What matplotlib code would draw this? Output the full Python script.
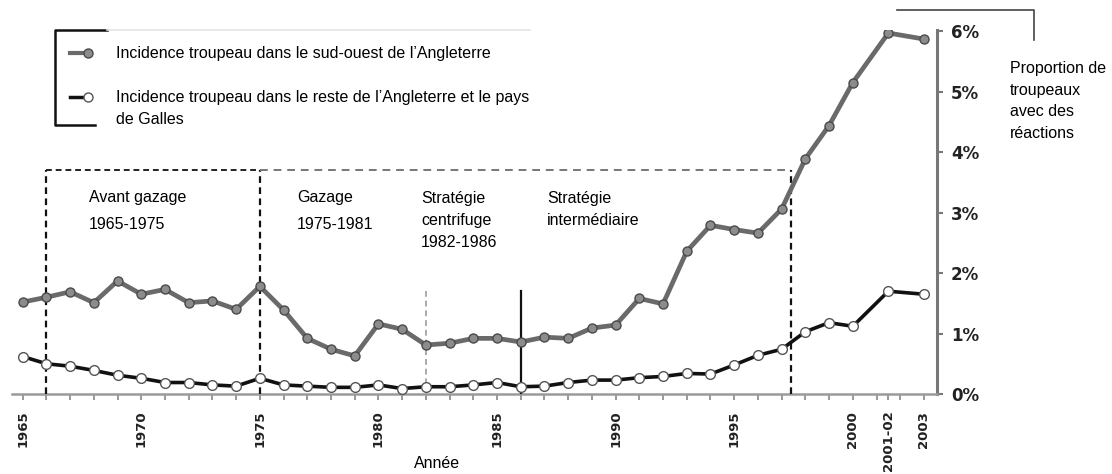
import matplotlib.pyplot as plt
import numpy as np
from matplotlib.lines import Line2D

# --- data ---
years = list(range(1965, 2001)) + [2001.5, 2003]
sw_england = [1.52, 1.60, 1.69, 1.51, 1.87, 1.65, 1.73, 1.51, 1.54, 1.40,
              1.78, 1.39, 0.92, 0.74, 0.63, 1.16, 1.07, 0.81, 0.84, 0.92,
              0.92, 0.86, 0.94, 0.92, 1.09, 1.14, 1.58, 1.49, 2.36, 2.79,
              2.72, 2.66, 3.06, 3.89, 4.44, 5.15, 5.97, 5.87]
rest_england_wales = [0.62, 0.50, 0.46, 0.39, 0.31, 0.26, 0.19, 0.19, 0.15, 0.13,
                      0.26, 0.15, 0.13, 0.11, 0.11, 0.15, 0.09, 0.12, 0.12, 0.15,
                      0.19, 0.12, 0.13, 0.19, 0.23, 0.23, 0.27, 0.29, 0.34, 0.33,
                      0.48, 0.64, 0.74, 1.03, 1.18, 1.12, 1.70, 1.65]

tick_pos = [1965, 1970, 1975, 1980, 1985, 1990, 1995, 2000, 2001.5, 2003]
tick_labels = ['1965', '1970', '1975', '1980', '1985', '1990', '1995', '2000',
               '2001-02', '2003']
pct_ticks = [0, 1, 2, 3, 4, 5, 6]

# periods (dashed frame) and strategy markers
period_bounds = [1966, 1975, 1997.4]
period_top = 3.7
strategy_lines = [1982, 1986]
strategy_top = 1.7

label_sw = 'Incidence troupeau dans le sud-ouest de l’Angleterre'
label_rest = 'Incidence troupeau dans le reste de l’Angleterre et le pays\nde Galles'

W, H = 1112, 474


def px(x, y):
    # pixel (from top-left) -> figure fraction
    return x / W, 1 - y / H


def main():
    plt.rcParams['font.family'] = ['Liberation Sans', 'DejaVu Sans']
    fig = plt.figure(figsize=(W / 100, H / 100), dpi=100)
    ax = fig.add_axes([12 / W, 1 - 394 / H, (937 - 12) / W, (394 - 30) / H])

    GRAY_LINE = '#6a6a6a'

    # --- series ---
    ax.plot(years, sw_england, color=GRAY_LINE, lw=3.4, marker='o', ms=6.5,
            mfc='#8c8c8c', mec='#4a4a4a', mew=1.0, zorder=4)
    ax.plot(years, rest_england_wales, color='#111111', lw=2.6, marker='o', ms=7,
            mfc='white', mec='#555555', mew=1.0, zorder=4)

    # --- period frame ---
    dash = (0, (3, 2))
    x0, x1, x2 = period_bounds
    for xb in period_bounds:
        ax.plot([xb, xb], [0, period_top], color='#111111', lw=1.6, ls=dash, zorder=3)
    ax.plot([x0, x1], [period_top, period_top], color='#222222', lw=1.4, ls=dash, zorder=3)
    ax.plot([x1, x2], [period_top, period_top], color='#777777', lw=1.4, ls=(0, (4, 3)), zorder=3)
    ax.plot([strategy_lines[0]] * 2, [0, strategy_top], color='#aaaaaa', lw=1.4, ls=dash, zorder=3)
    ax.plot([strategy_lines[1]] * 2, [0, strategy_top], color='#111111', lw=1.6, zorder=3)

    # --- axes ---
    ax.set_xlim(1964.55, 2003.55)
    ax.set_ylim(0, 6.02)
    for s in ['top', 'left']:
        ax.spines[s].set_visible(False)
    ax.spines['right'].set_color('#777777')
    ax.spines['right'].set_linewidth(2.2)
    ax.spines['bottom'].set_color('#9a9a9a')
    ax.spines['bottom'].set_linewidth(1.8)

    ax.yaxis.tick_right()
    ax.set_yticks(pct_ticks)
    ax.set_yticklabels([f'{v}%' for v in pct_ticks], fontsize=12, fontweight='bold',
                       family='DejaVu Sans', color='#222222')
    ax.tick_params(axis='y', length=4, width=1.5, color='#777777', pad=6)

    ax.set_xticks(tick_pos)
    ax.set_xticklabels(tick_labels, rotation=90, fontsize=9.5, fontweight='bold',
                       family='DejaVu Sans', color='#222222')
    ax.set_xticks(np.arange(1965, 2004), minor=True)
    ax.tick_params(axis='x', which='both', length=4, width=1.2, color='#888888', pad=8)

    # --- period labels ---
    fs = 11.5
    fig.text(*px(89, 190), 'Avant gazage\n1965-1975', fontsize=fs, va='top', linespacing=2.0)
    fig.text(*px(297, 190), 'Gazage\n1975-1981', fontsize=fs, va='top', linespacing=2.0)
    fig.text(*px(421, 191), 'Stratégie\ncentrifuge\n1982-1986', fontsize=fs, va='top', linespacing=1.6)
    fig.text(*px(547, 191), 'Stratégie\nintermédiaire', fontsize=fs, va='top', linespacing=1.6)

    # --- legend (drawn by hand, bracket style) ---
    fig.add_artist(Line2D([107 / W, 55 / W, 55 / W, 95 / W],
                          [1 - 30 / H, 1 - 30 / H, 1 - 125 / H, 1 - 125 / H],
                          color='#111111', lw=1.8))
    fig.add_artist(Line2D([107 / W, 530 / W], [1 - 30 / H] * 2, color='#e4e4e4', lw=1.2))
    fig.add_artist(Line2D([70 / W, 88 / W], [1 - 53 / H] * 2, color=GRAY_LINE, lw=3))
    fig.add_artist(Line2D([88 / W], [1 - 53 / H], marker='o', ms=6.5, mfc='#8c8c8c',
                          mec='#4a4a4a', lw=0))
    fig.add_artist(Line2D([70 / W, 88 / W], [1 - 97 / H] * 2, color='#111111', lw=2.5))
    fig.add_artist(Line2D([88 / W], [1 - 97 / H], marker='o', ms=6.5, mfc='white',
                          mec='#555555', lw=0))
    fig.text(*px(116, 46), label_sw, fontsize=fs, va='top')
    fig.text(*px(116, 90), label_rest, fontsize=fs, va='top', linespacing=1.55)

    # --- axis titles ---
    fig.add_artist(Line2D([897 / W, 1034 / W, 1034 / W], [1 - 10 / H, 1 - 10 / H, 1 - 40 / H],
                          color='#444444', lw=1.2))
    fig.text(*px(1010, 61), 'Proportion de\ntroupeaux\navec des\nréactions',
             fontsize=fs, va='top', linespacing=1.55)
    fig.text(*px(437, 464), 'Année', fontsize=fs, ha='center', va='center')

    fig.savefig('out.png', dpi=100)


if __name__ == '__main__':
    main()
